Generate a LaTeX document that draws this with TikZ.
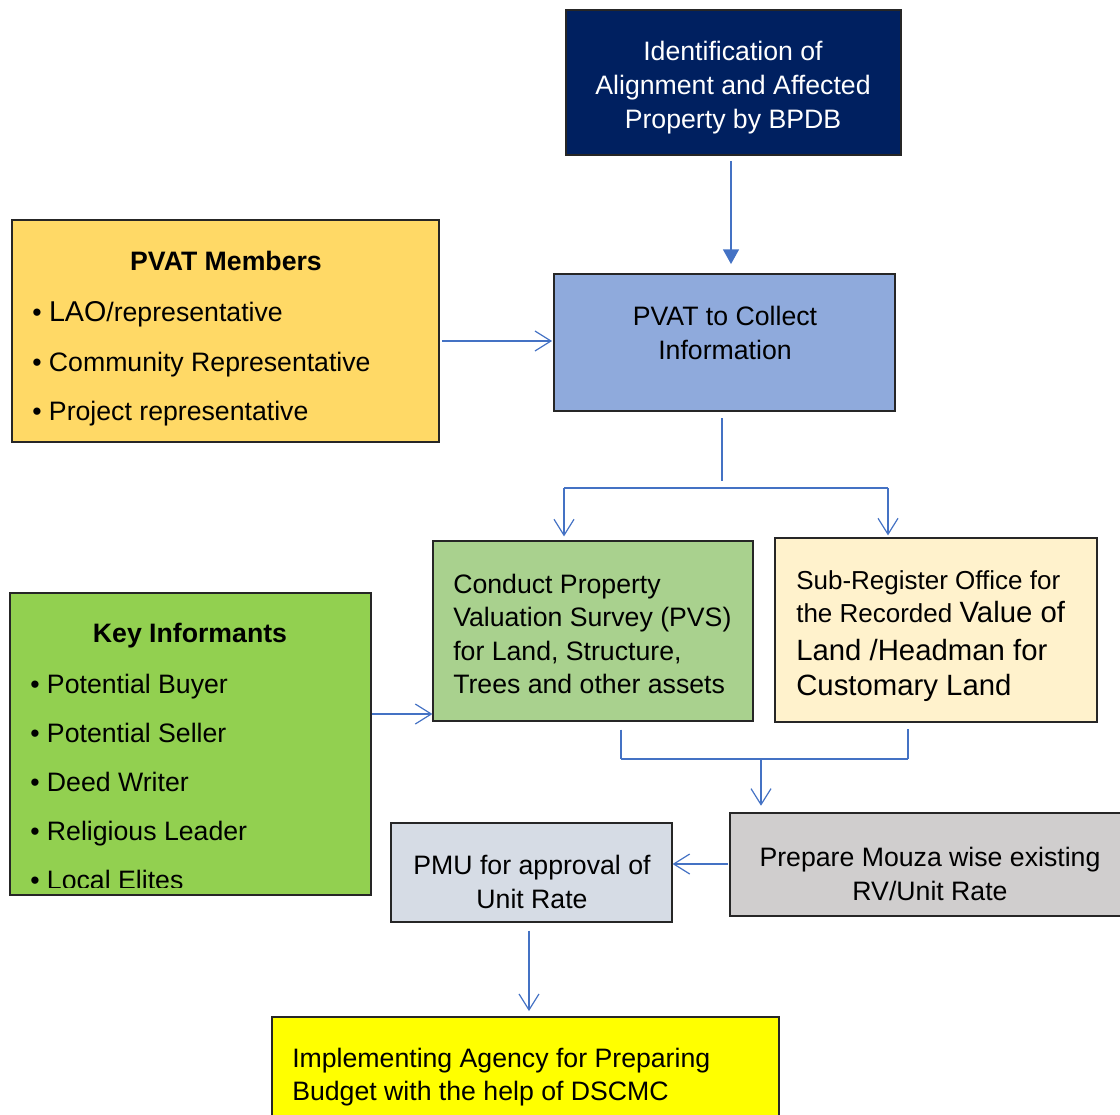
\documentclass[tikz,border=0pt]{standalone}
\usepackage{fontspec}
\setmainfont{Liberation Sans}
\usetikzlibrary{arrows.meta,fit}
\definecolor{navy}{HTML}{002060}
\definecolor{pvatmcol}{HTML}{FFD966}
\definecolor{pvatcol}{HTML}{8FAADC}
\definecolor{conductcol}{HTML}{A9D18E}
\definecolor{subcol}{HTML}{FFF2CC}
\definecolor{keycol}{HTML}{92D050}
\definecolor{pmucol}{HTML}{D6DCE5}
\definecolor{mouzacol}{HTML}{D0CECE}
\definecolor{implcol}{HTML}{FFFF00}
\definecolor{linkblue}{HTML}{4472C4}
\definecolor{boxline}{HTML}{262626}
\begin{document}
\begin{tikzpicture}[x=0.75pt,y=-0.75pt,
  box/.style={draw=boxline, line width=0.9pt, inner sep=0pt},
  txt/.style={inner sep=0pt, font=\fontsize{20}{25}\selectfont},
  ltxt/.style={txt, anchor=west, align=left},
  ctxt/.style={txt, align=center},
  conn/.style={draw=linkblue, line width=0.9pt},
  openarr/.style={conn, -{Straight Barb[length=12pt,width=15pt]}},
  fillarr/.style={conn, -{Triangle[length=11pt,width=12pt]}}]
\useasboundingbox (0,0) rectangle (1120,1114);

% boxes
\node[box, fill=navy, fit={(566,10) (901,155)}] (top) {};
\node[ctxt, text=white, font=\fontsize{20}{25.5}\selectfont] (toptxt) at (733,88) {Identification of\\Alignment and Affected\\Property by BPDB};

\node[box, fill=pvatmcol, fit={(12,220) (439,442)}] (pvatm) {};
\node[txt, font=\fontsize{20}{25}\selectfont\bfseries] (pvatmhead) at (226,261) {PVAT Members};
\node[ltxt, font=\fontsize{20}{37}\selectfont] (pvatmlist) at (32,364) {• \fontsize{21.5}{37}\selectfont LAO\fontsize{20}{37}\selectfont/representative\\• Community Representative\\• Project representative};

\node[box, fill=pvatcol, fit={(554,274) (895,411)}] (pvat) {};
\node[ctxt] (pvattxt) at (725,333) {PVAT to Collect\\Information};

\node[box, fill=conductcol, fit={(433,541) (753,721)}] (conduct) {};
\node[ltxt] (conducttxt) at (453,634) {Conduct Property\\Valuation Survey (PVS)\\for Land, Structure,\\Trees and other assets};

\node[box, fill=subcol, fit={(775,538) (1097,722)}] (sub) {};
\node[ltxt] (subtxt) at (796,636) {\fontsize{19.5}{25}\selectfont Sub-Register Office for\\
  \fontsize{19.5}{25}\selectfont the Recorded \fontsize{22}{28}\selectfont Value of\\[3pt]
  \fontsize{22}{28}\selectfont Land /Headman for\\[1.5pt]
  \fontsize{22}{27.5}\selectfont Customary Land};

\node[box, fill=keycol, fit={(10,593) (371,895)}] (key) {};
\node[txt, font=\fontsize{20}{25}\selectfont\bfseries] (keyhead) at (190,636) {Key Informants};
\begin{scope}
\clip (10,593) rectangle (371,887);
\node[ltxt, font=\fontsize{20}{36.75}\selectfont, anchor=north west] (keylist) at (30,674) {• Potential Buyer\\• Potential Seller\\• Deed Writer\\• Religious Leader\\• Local Elites};
\end{scope}

\node[box, fill=pmucol, fit={(391,823) (672,922)}] (pmu) {};
\node[ctxt] (pmutxt) at (532,882) {PMU for approval of\\Unit Rate};

\node[box, fill=mouzacol, fit={(730,813) (1126,916)}] (mouza) {};
\node[ctxt] (mouzatxt) at (930,874) {Prepare Mouza wise existing\\RV/Unit Rate};

\node[box, fill=implcol, fit={(272,1017) (779,1120)}] (impl) {};
\node[ltxt] (impltxt) at (292,1077) {Implementing Agency for Preparing\\Budget with the help of DSCMC};

% helper coordinates
\coordinate (c1) at (731,0);
\coordinate (c2) at (0,341);
\coordinate (c3) at (722,0);
\coordinate (s1) at (722,481);
\coordinate (j1) at (564,488);
\coordinate (j2) at (888,488);
\coordinate (c4) at (0,714);
\coordinate (k1) at (621,759);
\coordinate (k2) at (908,759);
\coordinate (k3) at (761,759);
\coordinate (c5) at (0,864);
\coordinate (c6) at (529,0);

% connectors
\draw[fillarr, shorten <=4pt, shorten >=7pt] (top.south -| c1) -- (pvat.north -| c1);
\draw[openarr, shorten <=2pt, shorten >=1pt] (pvatm.east |- c2) -- (pvat.west |- c2);
\draw[conn, shorten <=5pt] (pvat.south -| c3) -- (s1);
\draw[conn] (j1) -- (j2);
\draw[openarr, shorten >=3pt] (j1) -- (conduct.north -| j1);
\draw[openarr, shorten >=1.5pt] (j2) -- (sub.north -| j2);
\draw[openarr, shorten <=0.5pt, shorten >=0pt] (key.east |- c4) -- (conduct.west |- c4);
\draw[conn, shorten <=6pt] (conduct.south -| k1) -- (k1);
\draw[conn, shorten <=5pt] (sub.south -| k2) -- (k2);
\draw[conn] (k1) -- (k2);
\draw[openarr, shorten >=5pt] (k3) -- (mouza.north -| k3);
\draw[openarr, shorten <=1pt, shorten >=0pt] (mouza.west |- c5) -- (pmu.east |- c5);
\draw[openarr, shorten <=6pt, shorten >=4pt] (pmu.south -| c6) -- (impl.north -| c6);
\end{tikzpicture}
\end{document}
